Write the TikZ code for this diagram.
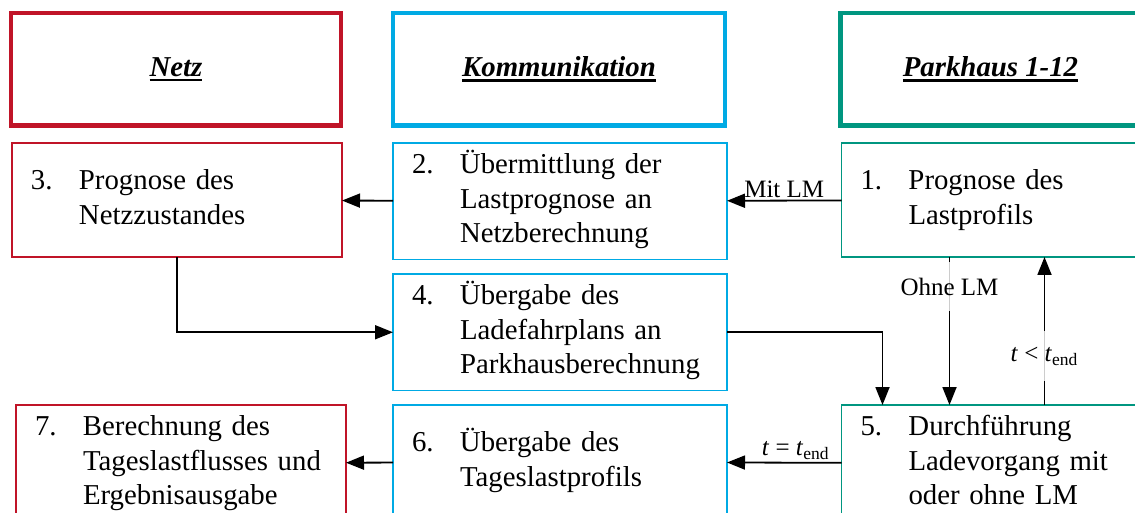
\documentclass[tikz,border=0pt]{standalone}
\usepackage{fontspec}
\setmainfont{Liberation Serif}
\usetikzlibrary{arrows.meta}
\definecolor{netzrot}{RGB}{192,20,40}
\definecolor{kommblau}{RGB}{0,170,228}
\definecolor{parkgruen}{RGB}{0,150,128}
\newcommand{\schritt}[2]{\noindent\makebox[24pt][l]{#1}\begin{tabular}[t]{@{}l@{}}#2\end{tabular}}
\newcommand{\kopftext}[1]{\setbox0\hbox{#1}\rlap{\rule[-2.4pt]{\wd0}{1.1pt}}\box0}

\begin{document}
\begin{tikzpicture}[x=0.5pt,y=-0.5pt,
    every node/.style={font=\fontsize{14.4}{17.2}\selectfont},
    kopf/.style={draw=#1, line width=2.15pt, outer sep=0pt, anchor=north west,
      minimum height=56.25pt, font=\fontsize{14.4}{17.2}\selectfont\bfseries\itshape},
    schrittbox/.style={draw=#1, line width=0.9pt, outer sep=0pt, anchor=north west,
      minimum height=57pt, inner xsep=9.5pt, align=left},
    pfeil/.style={-{Triangle[length=9pt,width=7pt]}, line width=0.9pt},
    lbl/.style={font=\fontsize{12.5}{15}\selectfont, inner sep=1pt},
    quer/.style={lbl, fill=white, fill opacity=0.8, text opacity=1, inner ysep=8pt}]
    \useasboundingbox (0,0) rectangle (1135,513);
    \clip (0,0) rectangle (1135,513);
    \node[kopf=netzrot, minimum width=165pt] (N) at (11,13) {\kopftext{Netz}};
    \node[kopf=kommblau, minimum width=166pt] (K) at (393,13) {\kopftext{Kommunikation}};
    \node[kopf=parkgruen, minimum width=150pt] (P) at (840.5,13) {\kopftext{Parkhaus 1-12}};
    \node[schrittbox=parkgruen, text width=131pt] (S1) at (841.5,143) {\schritt{1.}{Prognose des\\Lastprofils}};
    \node[schrittbox=kommblau, text width=148pt] (S2) at (393,143) {\schritt{2.}{Übermittlung der\\Lastprognose an\\Netzberechnung}};
    \node[schrittbox=netzrot, text width=146pt] (S3) at (12,143) {\schritt{3.}{Prognose des\\Netzzustandes}};
    \node[schrittbox=kommblau, text width=148pt, minimum height=56pt] (S4) at (393,274) {\schritt{4.}{Übergabe des\\Ladefahrplans an\\Parkhausberechnung}};
    \node[schrittbox=parkgruen, text width=131pt] (S5) at (841.5,405) {\schritt{5.}{Durchführung\\Ladevorgang mit\\oder ohne LM}};
    \node[schrittbox=kommblau, text width=148pt] (S6) at (393,405) {\schritt{6.}{Übergabe des\\Tageslastprofils}};
    \node[schrittbox=netzrot, text width=146pt] (S7) at (16,405) {\schritt{7.}{Berechnung des\\Tageslastflusses und\\Ergebnisausgabe}};
    \path[pfeil] (S1) edge node[lbl, above] {Mit LM} (S2);
    \path[pfeil] (S2) edge (S3);
    \draw[pfeil] (S3) |- (S4);
    \draw[pfeil] (S4) -| ([xshift=20.5pt]S5.north west);
    \draw[pfeil] ([xshift=54pt]S1.south west) -- node[quer, pos=0.2] {Ohne LM} ([xshift=54pt]S5.north west);
    \draw[pfeil] ([xshift=101.5pt]S5.north west) -- node[quer, pos=0.33] {\textit{t} < \textit{t}\textsubscript{end}} ([xshift=101.5pt]S1.south west);
    \path[pfeil] (S5) edge node[lbl, above, pos=0.4] {\textit{t} = \textit{t}\textsubscript{end}} (S6);
    \path[pfeil] (S6) edge (S7);
  \end{tikzpicture}
\end{document}
